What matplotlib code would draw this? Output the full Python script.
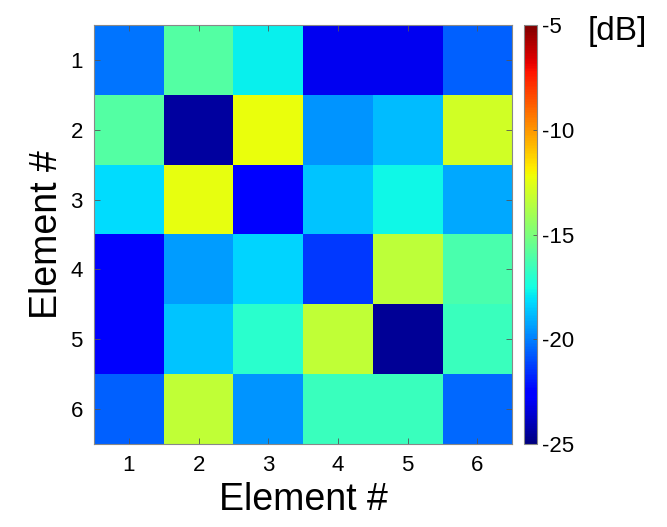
import numpy as np
import matplotlib
matplotlib.use('Agg')
import matplotlib.pyplot as plt

plt.rcParams['font.family'] = ['Liberation Sans', 'DejaVu Sans']
plt.rcParams['axes.unicode_minus'] = False

elements = [1, 2, 3, 4, 5, 6]
# coupling between elements [dB], rows = element #, cols = element #
row1 = [-20.2, -16.0, -17.8, -23.0, -23.0, -20.6]
row2 = [-16.0, -24.4, -12.3, -19.6, -18.8, -12.9]
row3 = [-18.2, -12.4, -22.6, -18.6, -17.6, -19.2]
row4 = [-22.8, -19.4, -18.3, -21.4, -13.4, -16.2]
row5 = [-22.8, -18.6, -17.0, -13.3, -24.6, -16.6]
row6 = [-20.6, -13.3, -19.6, -16.6, -16.6, -20.4]
S = np.array([row1, row2, row3, row4, row5, row6])
cb_ticks = [-5, -10, -15, -20, -25]

fig = plt.figure(figsize=(6.67, 5.27), dpi=100)
ax = fig.add_axes([0.141, 0.1575, 0.627, 0.795])
cax = fig.add_axes([0.786, 0.1575, 0.019, 0.795])

im = ax.imshow(S, cmap='jet', vmin=-25, vmax=-5, aspect='auto',
               extent=[0.5, 6.5, 6.5, 0.5], interpolation='nearest')
ax.set_xticks(elements)
ax.set_yticks(elements)
ax.tick_params(direction='in', length=4, width=0.6, color='#555555',
               labelsize=16, top=True, right=True, pad=8)
for s in ax.spines.values():
    s.set_color('#888888')
    s.set_linewidth(0.8)
ax.set_xlabel('Element #', fontsize=27, labelpad=4)
ax.set_ylabel('Element #', fontsize=27, labelpad=4)

cbar = fig.colorbar(im, cax=cax, ticks=cb_ticks)
cbar.ax.tick_params(direction='in', length=3, width=0.6, color='#555555',
                    labelsize=16, pad=4)
cbar.outline.set_edgecolor('#888888')
cbar.outline.set_linewidth(0.8)
fig.text(0.925, 0.94, '[dB]', fontsize=24, ha='center', va='center')

fig.savefig('out.png', dpi=100)
